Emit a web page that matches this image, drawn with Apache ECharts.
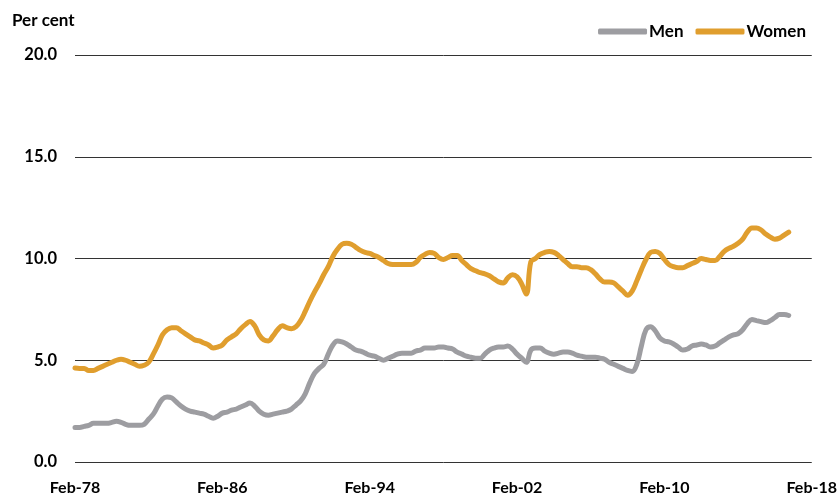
<!DOCTYPE html>
<html>
<head>
<meta charset="utf-8">
<script src="https://cdn.jsdelivr.net/npm/echarts@6/dist/echarts.min.js"></script>
<style>html,body{margin:0;padding:0;background:#fff}#c{width:840px;height:497px}</style>
</head>
<body>
<div id="c"></div>
<script>
// Quarterly observations (Feb, May, Aug, Nov) from Feb-78
const months = ['Feb', 'May', 'Aug', 'Nov'];
const firstYear = 1978;
const lastYear = 2018;
const tickLabels = ['Feb-78', 'Feb-86', 'Feb-94', 'Feb-02', 'Feb-10', 'Feb-18'];
const yTicks = [0, 5, 10, 15, 20];

const women = [
  4.62, 4.6, 4.6, 4.5,
  4.5, 4.6, 4.7, 4.8,
  4.9, 5.0, 5.05, 5.0,
  4.9, 4.8, 4.7, 4.75,
  4.9, 5.3, 5.75, 6.25,
  6.5, 6.6, 6.6, 6.45,
  6.3, 6.15, 6.0, 5.95,
  5.85, 5.75, 5.6, 5.65,
  5.75, 6.0, 6.15, 6.3,
  6.55, 6.75, 6.9, 6.7,
  6.25, 6.0, 5.95, 6.2,
  6.5, 6.7, 6.6, 6.55,
  6.65, 6.95, 7.4, 7.9,
  8.35, 8.75, 9.2, 9.6,
  10.1, 10.45, 10.7, 10.75,
  10.7, 10.55, 10.4, 10.3,
  10.25, 10.15, 10.05, 9.9,
  9.75, 9.7, 9.7, 9.7,
  9.7, 9.7, 9.8, 10.05,
  10.2, 10.3, 10.25, 10.05,
  9.95, 10.05, 10.15, 10.15,
  9.9, 9.7, 9.5, 9.4,
  9.3, 9.25, 9.15, 9.0,
  8.85, 8.8, 9.05, 9.2,
  9.1, 8.75, 8.25, 9.85,
  10.0, 10.2, 10.3, 10.35,
  10.3, 10.15, 9.95, 9.75,
  9.6, 9.6, 9.55, 9.55,
  9.45, 9.25, 9.0, 8.85,
  8.85, 8.8, 8.6, 8.4,
  8.2, 8.4, 8.9, 9.45,
  9.95, 10.3, 10.35, 10.25,
  9.95, 9.7, 9.6, 9.55,
  9.55, 9.65, 9.75, 9.85,
  10.0, 9.95, 9.9, 9.9,
  10.1, 10.35, 10.5, 10.6,
  10.75, 10.95, 11.3, 11.5,
  11.5, 11.4, 11.2, 11.05,
  10.95, 11.0, 11.15, 11.3
];

const men = [
  1.7, 1.7, 1.75, 1.8,
  1.9, 1.9, 1.9, 1.9,
  1.95, 2.0, 1.95, 1.85,
  1.8, 1.8, 1.8, 1.85,
  2.1, 2.35, 2.75, 3.1,
  3.2, 3.15, 2.95, 2.75,
  2.6, 2.5, 2.45, 2.4,
  2.35, 2.25, 2.15, 2.25,
  2.4, 2.45, 2.55, 2.6,
  2.7, 2.8, 2.9, 2.75,
  2.5, 2.35, 2.3, 2.35,
  2.4, 2.45, 2.5, 2.6,
  2.8, 3.0, 3.35, 3.9,
  4.35, 4.6, 4.8, 5.3,
  5.75, 5.95, 5.9, 5.8,
  5.65, 5.5, 5.45, 5.35,
  5.25, 5.2, 5.1, 5.0,
  5.1, 5.2, 5.3, 5.35,
  5.35, 5.35, 5.45, 5.5,
  5.6, 5.6, 5.6, 5.65,
  5.65, 5.6, 5.55, 5.4,
  5.3, 5.2, 5.15, 5.1,
  5.1, 5.3, 5.5, 5.6,
  5.65, 5.65, 5.7, 5.55,
  5.3, 5.1, 4.9, 5.5,
  5.6, 5.6, 5.45, 5.35,
  5.3, 5.35, 5.4, 5.4,
  5.35, 5.25, 5.2, 5.15,
  5.15, 5.15, 5.1, 5.05,
  4.9, 4.8, 4.7, 4.6,
  4.5, 4.45, 4.8, 5.7,
  6.5, 6.65, 6.45, 6.1,
  5.95, 5.9, 5.8, 5.65,
  5.5, 5.55, 5.7, 5.75,
  5.8, 5.75, 5.65, 5.7,
  5.85, 6.0, 6.15, 6.25,
  6.3, 6.5, 6.8, 7.0,
  6.95, 6.9, 6.85, 6.95,
  7.1, 7.25, 7.25, 7.2
];

const categories = [];
for (let y = firstYear; y <= lastYear; y++) {
  for (const m of months) {
    categories.push(m + '-' + String(y).slice(2));
    if (y === lastYear) break;
  }
}

const FONT = 'Lato';
const chart = echarts.init(document.getElementById('c'));
chart.setOption({
  animation: false,
  backgroundColor: '#fff',
  graphic: [{
    type: 'text', left: 12, top: 12,
    style: { text: 'Per cent', fontFamily: FONT, fontWeight: 'bold', fontSize: 17, fill: '#000' }
  }],
  legend: {
    right: 29, top: 18,
    icon: 'roundRect', itemWidth: 49, itemHeight: 6, itemGap: 12,
    textStyle: { fontFamily: FONT, fontWeight: 'bold', fontSize: 17, color: '#000', padding: [0, 0, 0, -3] },
    data: ['Men', 'Women']
  },
  grid: { left: 75, right: 28, top: 55, bottom: 35, containLabel: false },
  xAxis: {
    type: 'category',
    data: categories,
    boundaryGap: false,
    axisLine: { show: false },
    axisTick: { show: false },
    axisLabel: {
      interval: 0,
      formatter: v => tickLabels.includes(v) ? v : '',
      fontFamily: FONT, fontWeight: 'bold', fontSize: 16, color: '#000', margin: 18
    },
    splitLine: { show: false }
  },
  yAxis: {
    type: 'value',
    min: yTicks[0], max: yTicks[yTicks.length - 1], interval: 5,
    axisLine: { show: false },
    axisTick: { show: false },
    axisLabel: {
      formatter: v => v.toFixed(1),
      fontFamily: FONT, fontWeight: 'bold', fontSize: 16.5, color: '#000', margin: 18
    },
    splitLine: { show: true, lineStyle: { color: '#333333', width: 1 } }
  },
  series: [
    {
      name: 'Men', type: 'line', data: men, smooth: 0.4, showSymbol: false,
      lineStyle: { color: '#9d9da1', width: 5, cap: 'round' }, itemStyle: { color: '#9d9da1' }
    },
    {
      name: 'Women', type: 'line', data: women, smooth: 0.4, showSymbol: false,
      lineStyle: { color: '#e09e2e', width: 5, cap: 'round' }, itemStyle: { color: '#e09e2e' }
    }
  ]
});
</script>
</body>
</html>
